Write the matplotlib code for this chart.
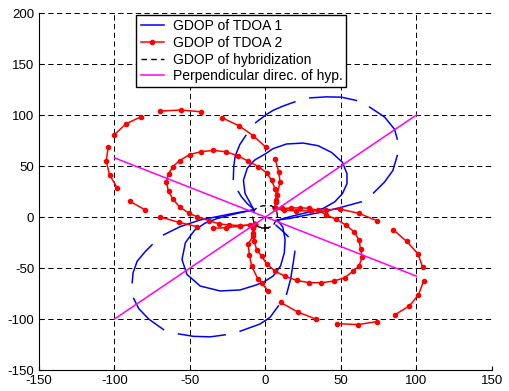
import numpy as np
import matplotlib
matplotlib.use('Agg')
import matplotlib.pyplot as plt

plt.rcParams['font.family'] = ['Liberation Sans', 'DejaVu Sans']
plt.rcParams['axes.unicode_minus'] = False

nan = np.nan

# GDOP of TDOA 2 (red, with dots) - four loops, NaN marks a break in the line
red_outer_ul_x = [-7, -17, -26, -34.5, nan, -45.4, -57.6, -69.6, nan, -79.5, -89.9, nan, -98.2, -103.3, -105.5, -104.2, nan,
                  -100.5, -92.1, -82.2, nan, -69.6, -56, -42.8, nan, -28.9, -17.3, -8, 0.3, nan, 6.3, 8.9, 9.6, 7.8, 7, 6.3]
red_outer_ul_y = [-7, -9, -10.5, -11, nan, -9.4, -5.1, 0, nan, 6.8, 15.5, nan, 28.5, 41.4, 54.7, 68.3, nan,
                  80.3, 91.6, 98.4, nan, 103.9, 104.9, 103.2, nan, 97.4, 89.3, 79.6, 68.3, nan, 57, 44, 34.3, 22, 15, 8.4]

red_inner_ul_x = [-7, -10.2, -16.8, -23.9, -30.5, -37.3, -45.4, -50.5, -56.9, -61.3, -64.2, -65.7, -64.2, -61.3, -56.9,
                  -50.3, -42.8, -34.7, -26.3, -18.4, -11.4, -4.8, 0.8, 4.1, 6.3, 7.4, 6.9, 6.3]
red_inner_ul_y = [-7, -7.8, -8.4, -7.8, -6.8, -3.6, 0.3, 3.6, 10, 17.5, 25.2, 34.3, 42.4, 49.5, 55.3,
                  61.2, 64, 65.3, 64, 60.2, 54.7, 49.5, 43.4, 35.9, 27.9, 21.4, 16.5, 8.4]

red_inner_lr_x = [6.3, 11, 17, 23, 29, 35, 40.4, 47, 53.1, 58.6, 61.9, 63, 64.1, 61.9, 58, 52.5, 45.2, 37.1, 28.9,
                  20.6, 12.9, 6.3, 0.8, -2.5, -5.8, -7.5, -8.4, -8, -7]
red_inner_lr_y = [8.4, 8.4, 8.8, 9, 8.5, 6.5, 1.9, -2.3, -7.8, -14.3, -22.3, -31.4, -39.1, -48.3, -53.1, -59.5, -62.8,
                  -64.4, -64.4, -62.1, -58, -53.1, -45.9, -38.5, -32, -24, -16, -9.4, -7]

red_outer_lr_x = [6.3, 12, 20, 30, 40, 49.2, 62, 73.8, nan, 84.8, 93.6, 100.9, 104.2, nan, 104.8, 101.3, 95.4, 85.5, nan,
                  73.8, 61.3, 47.6, nan, 33.8, 21.5, 10.1, nan, 1.8, -2.5, -5.1, -9.1, -10.7, -11.4, -8.4, -8, -7]
red_outer_lr_y = [8.4, 7, 6, 6, 7, 7.8, 3.6, -3.6, nan, -12.6, -24, -35.9, -49.2, nan, -62.8, -76.4, -87.1, -96.1, nan,
                  -102.5, -105.5, -104.5, nan, -100.3, -93.2, -83.8, nan, -72.5, -65, -60.5, -48.3, -36.9, -26.5, -19.1, -11, -7]

# GDOP of TDOA 1 (blue) - four loops
blue_inner_ur_x = [-8, -13.5, -14.6, -12, -7, 0, 5, 14, 25, 34.9, 43.7, 51, 54, 54, 51, 45.9, 38.2, 29.4, 18, 8]
blue_inner_ur_y = [8, 23, 36, 48, 56, 62, 67, 71.6, 72.5, 69.9, 63.4, 53.7, 42.4, 32.7, 23, 14.9, 8.4, 5.1, 1, -3]

blue_outer_ur_x = [-8, -12, -16, -18, nan, -21.3, -21, -20, -17, -13, nan, -6.5, 0.8, 5.1, 12, 19.5, nan,
                   29.4, 40.4, 50.3, 60.2, nan, 69, 78.9, 85.5, 87.3, nan, 87.3, 84.4, 78.9, 71.6, nan,
                   63.5, 51.4, 38.2, 27.2, 16.2, 8]
blue_outer_ur_y = [8, 13, 20, 25, nan, 37, 50, 60, 71, 80, nan, 92.5, 100.7, 104.6, 109, 112.9, nan,
                   116.8, 117.8, 117.5, 114.3, nan, 107.8, 98, 86.1, 76.4, nan, 60.2, 45.6, 34.3, 23.6, nan,
                   14.9, 10, 5.1, 1.9, -1.3, -3]

blue_inner_ll_x = [8, 11.5, 13, 12.5, 10, 5, -1.5, -6.9, -16.8, -30, -43.2, -52, -55.3, -53, -47, -40, -32, -22, -8]
blue_inner_ll_y = [-3, -10, -22, -35, -48, -58, -64, -67, -71.5, -72.5, -67.7, -56.3, -41.7, -25, -13, -6, -1.5, 2.5, 7]

blue_outer_ll_x = [7, 11.7, 15, nan, 19.5, 18.4, 16.6, 14, nan, 8.6, 3, -3.6, -16.8, nan, -26.7, -36.6, -47.7, -57.6, nan,
                   -67.5, -77.4, -84, -87.3, nan, -88.3, -87.7, -85, -79.5, -75.1, nan,
                   -67.5, -56.4, -49.8, -43.2, -32.2, -21, -8]
blue_outer_ll_y = [-8, -14.3, -19.1, nan, -33.7, -45, -61.2, -75.7, nan, -87.1, -98.4, -104.9, -112, nan, -115.5, -117.5, -117, -114.6, nan,
                   -110.4, -100, -89.6, -79.9, nan, -64.4, -54.7, -43.4, -33.7, -27.2, nan,
                   -17.5, -9.4, -6.1, -2.9, 0.3, 3.6, 7]

# GDOP of hybridization (small black dashed contour near origin)
hyb_x = [8, 7.4, 4, -1.5, -4.8, -7.4, -8.5, -7.4, -4, 1.5, 5, 8]
hyb_y = [0, 6.8, 11, 11, 10, 6.8, 0, -6.8, -10, -10.5, -9, 0]

# perpendicular directions of hyperbolas
perp1_x = [-100, 100]
perp1_y = [-100, 100]
perp2_x = [-100, 100]
perp2_y = [58, -58]

ref_x = [0]
ref_y = [-11]

fig = plt.figure(figsize=(5.1, 3.91), dpi=100)
ax = fig.add_axes([0.0765, 0.0537, 0.888, 0.913])

lw = 1.1
ms = 3.0
h1, = ax.plot(blue_inner_ur_x, blue_inner_ur_y, color='#0000ff', lw=lw, label='GDOP of TDOA 1')
ax.plot(blue_outer_ur_x, blue_outer_ur_y, color='#0000ff', lw=lw)
ax.plot(blue_inner_ll_x, blue_inner_ll_y, color='#0000ff', lw=lw)
ax.plot(blue_outer_ll_x, blue_outer_ll_y, color='#0000ff', lw=lw)

h2, = ax.plot(red_outer_ul_x, red_outer_ul_y, color='#ff0000', lw=lw, marker='o', ms=ms, label='GDOP of TDOA 2')
ax.plot(red_inner_ul_x, red_inner_ul_y, color='#ff0000', lw=lw, marker='o', ms=ms)
ax.plot(red_inner_lr_x, red_inner_lr_y, color='#ff0000', lw=lw, marker='o', ms=ms)
ax.plot(red_outer_lr_x, red_outer_lr_y, color='#ff0000', lw=lw, marker='o', ms=ms)

h3, = ax.plot(hyb_x, hyb_y, color='k', lw=1.0, dashes=(4, 3), label='GDOP of hybridization')
h4, = ax.plot(perp1_x, perp1_y, color='#ff00ff', lw=lw, label='Perpendicular direc. of hyp.')
ax.plot(perp2_x, perp2_y, color='#ff00ff', lw=lw)
ax.plot(ref_x, ref_y, 'k+', ms=6, mew=1.1)

ax.set_xlim(-150, 150)
ax.set_ylim(-150, 200)
ax.set_xticks(np.arange(-150, 151, 50))
ax.set_yticks(np.arange(-150, 201, 50))
ax.grid(True, color='k', lw=0.7, dashes=(5.5, 3.5))
ax.spines['top'].set_visible(False)
ax.spines['right'].set_visible(False)
ax.tick_params(direction='in', length=3, labelsize=9.5, width=0.8)

leg = ax.legend(handles=[h1, h2, h3, h4], loc='upper center', bbox_to_anchor=(0.447, 0.995),
                borderaxespad=0, fontsize=10, fancybox=False, framealpha=1, edgecolor='k',
                handlelength=1.7, handletextpad=0.6, labelspacing=0.2, borderpad=0.3)
leg.get_frame().set_linewidth(1.0)

fig.savefig('out.png', dpi=100)
